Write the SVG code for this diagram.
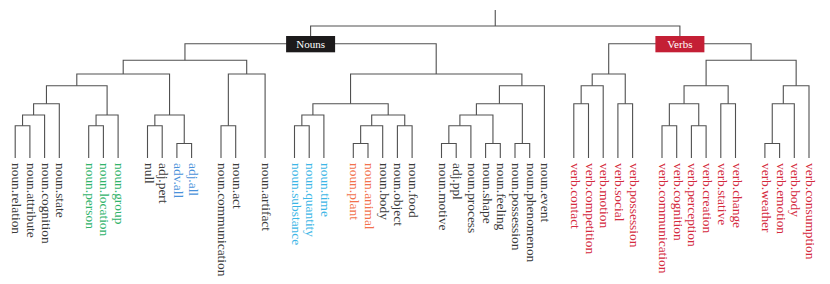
<svg xmlns="http://www.w3.org/2000/svg" width="830" height="284" viewBox="0 0 830 284">
<style>
.c{fill:none;stroke:#505050;stroke-width:1.1}
.l{font-family:"Liberation Serif","DejaVu Serif",serif;font-size:13.4px;fill:#3a3a3a}
.g{fill:#2fb36a}
.b{fill:#4a92da}
.s{fill:#3cb6e6}
.o{fill:#f2714c}
.r{fill:#d42a3e}
.bx{font-family:"Liberation Serif","DejaVu Serif",serif;font-size:11px;fill:#ffffff;text-anchor:middle}
</style>
<rect width="830" height="284" fill="#ffffff"/>
<g id="connectors" class="c">
<path d="M495.25 26V10"/>
<path d="M310.6 36V26H679.9V36"/>
<path d="M184.95 60.3V43.7H436.2V74"/>
<path d="M608.7 74V43.7H751.1V60.3"/>
<path d="M123.2 74V60.3H246.7V74"/>
<path d="M76.8 85.7V74H169.55V115"/>
<path d="M46.45 103.7V85.7H107.1V115"/>
<path d="M33.6 115V103.7H59.3V158"/>
<path d="M22.55 125.7V115H44.6V158"/>
<path d="M15.2 158V125.7H29.9V158"/>
<path d="M96.05 125.7V115H118.1V158"/>
<path d="M88.7 158V125.7H103.4V158"/>
<path d="M154.85 125.7V115H184.25V143.5"/>
<path d="M147.5 158V125.7H162.2V158"/>
<path d="M176.9 158V143.5H191.6V158"/>
<path d="M228.35 125.7V74H265.1V158"/>
<path d="M221 158V125.7H235.7V158"/>
<path d="M350.55 103.7V74H521.9V85.7"/>
<path d="M312.9 115V103.7H388.2V115"/>
<path d="M301.85 125.7V115H323.9V158"/>
<path d="M294.5 158V125.7H309.2V158"/>
<path d="M371.7 125.7V115H404.75V125.7"/>
<path d="M360.65 143.5V125.7H382.7V158"/>
<path d="M353.3 158V143.5H368V158"/>
<path d="M397.4 158V125.7H412.1V158"/>
<path d="M499.4 103.7V85.7H544.4V158"/>
<path d="M476.4 115V103.7H522.35V143.5"/>
<path d="M459.9 125.7V115H492.95V143.5"/>
<path d="M448.85 143.5V125.7H470.9V158"/>
<path d="M441.5 158V143.5H456.2V158"/>
<path d="M485.6 158V143.5H500.3V158"/>
<path d="M515 158V143.5H529.7V158"/>
<path d="M592.2 85.7V74H625.25V103.7"/>
<path d="M581.15 103.7V85.7H603.2V158"/>
<path d="M573.8 158V103.7H588.5V158"/>
<path d="M617.9 158V103.7H632.6V158"/>
<path d="M706.1 85.7V60.3H796.15V85.7"/>
<path d="M684.05 103.7V85.7H728.15V103.7"/>
<path d="M669.35 125.7V103.7H698.75V125.7"/>
<path d="M662 158V125.7H676.7V158"/>
<path d="M691.4 158V125.7H706.1V158"/>
<path d="M720.8 158V103.7H735.5V158"/>
<path d="M783.3 103.7V85.7H809V158"/>
<path d="M772.25 143.5V103.7H794.3V158"/>
<path d="M764.9 158V143.5H779.6V158"/>
</g>
<g id="nouns">
<rect x="286.1" y="36" width="49" height="16.3" fill="#1c1a1b"/>
<text class="bx" x="310.6" y="48">Nouns</text>
</g>
<g id="verbs">
<rect x="655.4" y="36" width="49" height="16.3" fill="#c41f35"/>
<text class="bx" x="679.9" y="48">Verbs</text>
</g>
<g class="l">
<g id="n-relation"><text transform="translate(15.2,163) rotate(90)" y="3">noun.relation</text></g>
<g id="n-attribute"><text transform="translate(29.9,163) rotate(90)" y="3">noun.attribute</text></g>
<g id="n-cognition"><text transform="translate(44.6,163) rotate(90)" y="3">noun.cognition</text></g>
<g id="n-state"><text transform="translate(59.3,163) rotate(90)" y="3">noun.state</text></g>
<g id="n-person"><text class="g" transform="translate(88.7,163) rotate(90)" y="3">noun.person</text></g>
<g id="n-location"><text class="g" transform="translate(103.4,163) rotate(90)" y="3">noun.location</text></g>
<g id="n-group"><text class="g" transform="translate(118.1,163) rotate(90)" y="3">noun.group</text></g>
<g id="null"><text transform="translate(147.5,163) rotate(90)" y="3">null</text></g>
<g id="adj-pert"><text transform="translate(162.2,163) rotate(90)" y="3">adj.pert</text></g>
<g id="adv-all"><text class="b" transform="translate(176.9,163) rotate(90)" y="3">adv.all</text></g>
<g id="adj-all"><text class="b" transform="translate(191.6,163) rotate(90)" y="3">adj.all</text></g>
<g id="n-communication"><text transform="translate(221,163) rotate(90)" y="3">noun.communication</text></g>
<g id="n-act"><text transform="translate(235.7,163) rotate(90)" y="3">noun.act</text></g>
<g id="n-artifact"><text transform="translate(265.1,163) rotate(90)" y="3">noun.artifact</text></g>
<g id="n-substance"><text class="s" transform="translate(294.5,163) rotate(90)" y="3">noun.substance</text></g>
<g id="n-quantity"><text class="s" transform="translate(309.2,163) rotate(90)" y="3">noun.quantity</text></g>
<g id="n-time"><text class="s" transform="translate(323.9,163) rotate(90)" y="3">noun.time</text></g>
<g id="n-plant"><text class="o" transform="translate(353.3,163) rotate(90)" y="3">noun.plant</text></g>
<g id="n-animal"><text class="o" transform="translate(368,163) rotate(90)" y="3">noun.animal</text></g>
<g id="n-body"><text transform="translate(382.7,163) rotate(90)" y="3">noun.body</text></g>
<g id="n-object"><text transform="translate(397.4,163) rotate(90)" y="3">noun.object</text></g>
<g id="n-food"><text transform="translate(412.1,163) rotate(90)" y="3">noun.food</text></g>
<g id="n-motive"><text transform="translate(441.5,163) rotate(90)" y="3">noun.motive</text></g>
<g id="adj-ppl"><text transform="translate(456.2,163) rotate(90)" y="3">adj.ppl</text></g>
<g id="n-process"><text transform="translate(470.9,163) rotate(90)" y="3">noun.process</text></g>
<g id="n-shape"><text transform="translate(485.6,163) rotate(90)" y="3">noun.shape</text></g>
<g id="n-feeling"><text transform="translate(500.3,163) rotate(90)" y="3">noun.feeling</text></g>
<g id="n-possession"><text transform="translate(515,163) rotate(90)" y="3">noun.possession</text></g>
<g id="n-phenomenon"><text transform="translate(529.7,163) rotate(90)" y="3">noun.phenomenon</text></g>
<g id="n-event"><text transform="translate(544.4,163) rotate(90)" y="3">noun.event</text></g>
<g id="v-contact"><text class="r" transform="translate(573.8,163) rotate(90)" y="3">verb.contact</text></g>
<g id="v-competition"><text class="r" transform="translate(588.5,163) rotate(90)" y="3">verb.competition</text></g>
<g id="v-motion"><text class="r" transform="translate(603.2,163) rotate(90)" y="3">verb.motion</text></g>
<g id="v-social"><text class="r" transform="translate(617.9,163) rotate(90)" y="3">verb.social</text></g>
<g id="v-possession"><text class="r" transform="translate(632.6,163) rotate(90)" y="3">verb.possession</text></g>
<g id="v-communication"><text class="r" transform="translate(662,163) rotate(90)" y="3">verb.communication</text></g>
<g id="v-cognition"><text class="r" transform="translate(676.7,163) rotate(90)" y="3">verb.cognition</text></g>
<g id="v-perception"><text class="r" transform="translate(691.4,163) rotate(90)" y="3">verb.perception</text></g>
<g id="v-creation"><text class="r" transform="translate(706.1,163) rotate(90)" y="3">verb.creation</text></g>
<g id="v-stative"><text class="r" transform="translate(720.8,163) rotate(90)" y="3">verb.stative</text></g>
<g id="v-change"><text class="r" transform="translate(735.5,163) rotate(90)" y="3">verb.change</text></g>
<g id="v-weather"><text class="r" transform="translate(764.9,163) rotate(90)" y="3">verb.weather</text></g>
<g id="v-emotion"><text class="r" transform="translate(779.6,163) rotate(90)" y="3">verb.emotion</text></g>
<g id="v-body"><text class="r" transform="translate(794.3,163) rotate(90)" y="3">verb.body</text></g>
<g id="v-consumption"><text class="r" transform="translate(809,163) rotate(90)" y="3">verb.consumption</text></g>
</g>
</svg>
